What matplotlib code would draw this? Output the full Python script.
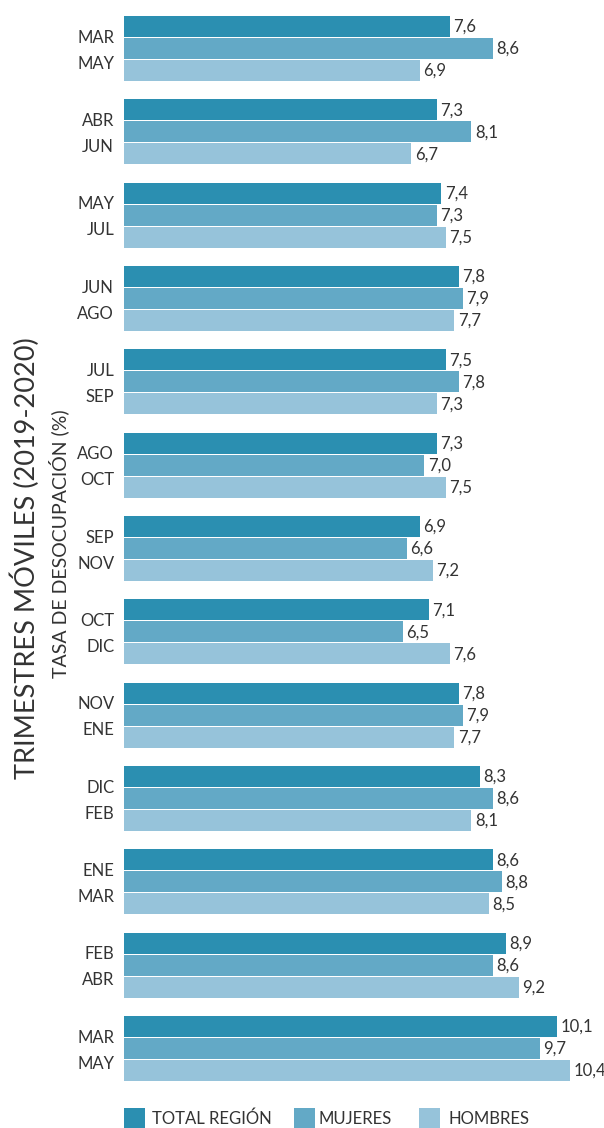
import matplotlib
matplotlib.use("Agg")
import matplotlib.pyplot as plt
from matplotlib.patches import Rectangle

plt.rcParams['font.family'] = ['Lato', 'DejaVu Sans']

start_months = ["MAR", "ABR", "MAY", "JUN", "JUL", "AGO", "SEP", "OCT", "NOV", "DIC", "ENE", "FEB", "MAR"]
end_months = ["MAY", "JUN", "JUL", "AGO", "SEP", "OCT", "NOV", "DIC", "ENE", "FEB", "MAR", "ABR", "MAY"]
total_region = [7.6, 7.3, 7.4, 7.8, 7.5, 7.3, 6.9, 7.1, 7.8, 8.3, 8.6, 8.9, 10.1]
mujeres = [8.6, 8.1, 7.3, 7.9, 7.8, 7.0, 6.6, 6.5, 7.9, 8.6, 8.8, 8.6, 9.7]
hombres = [6.9, 6.7, 7.5, 7.7, 7.3, 7.5, 7.2, 7.6, 7.7, 8.1, 8.5, 9.2, 10.4]
series_names = ["TOTAL REGIÓN", "MUJERES", "HOMBRES"]
colors = ["#2b8fb1", "#63a9c6", "#96c3da"]
text_color = "#333333"

W, H = 604, 1128
fig = plt.figure(figsize=(W / 100, H / 100), dpi=100)
ax_left, ax_right = 124, 604
ax_top, ax_bot = 16, 1081
ax = fig.add_axes([ax_left / W, 1 - ax_bot / H, (ax_right - ax_left) / W, (ax_bot - ax_top) / H])

n = len(total_region)
step = 0.264
bh = 0.252
xmax = (ax_right - ax_left) / 42.9
ax.set_xlim(0, xmax)
ax.set_ylim(n - 1 + 0.39, -0.39)

fs = 12
for k, vals in enumerate([total_region, mujeres, hombres]):
    ys = [i + (k - 1) * step for i in range(n)]
    ax.barh(ys, vals, height=bh, color=colors[k], edgecolor='none', label=series_names[k])
    for y, v in zip(ys, vals):
        ax.text(v + 0.08, y + 0.066, f"{v:.1f}".replace('.', ','), va='baseline', ha='left',
                fontsize=fs, color=text_color)

for i in range(n):
    ax.text(-0.23, i - 0.072, start_months[i], ha='right', va='baseline', fontsize=fs,
            color=text_color, clip_on=False)
    ax.text(-0.23, i + 0.24, end_months[i], ha='right', va='baseline', fontsize=fs,
            color=text_color, clip_on=False)

ax.axis('off')

fig.text(25 / W, 1 - 558 / H, "TRIMESTRES MÓVILES (2019-2020)", rotation=90,
         ha='center', va='center', fontsize=19.5, color=text_color)
fig.text(59 / W, 1 - 544 / H, "TASA DE DESOCUPACIÓN (%)", rotation=90,
         ha='center', va='center', fontsize=14, color=text_color)

# legend
leg_sq_x = [124, 294, 419]
leg_txt_x = [152, 319, 449]
sq = 21
sq_top = 1108
for c, name, sx, tx in zip(colors, series_names, leg_sq_x, leg_txt_x):
    fig.add_artist(Rectangle((sx / W, 1 - (sq_top + sq) / H), sq / W, sq / H,
                             facecolor=c, edgecolor='none', transform=fig.transFigure))
    fig.text(tx / W, 1 - (sq_top + sq / 2 + 6) / H, name, ha='left', va='baseline',
             fontsize=fs, color=text_color)

fig.savefig("out.png", dpi=100)
